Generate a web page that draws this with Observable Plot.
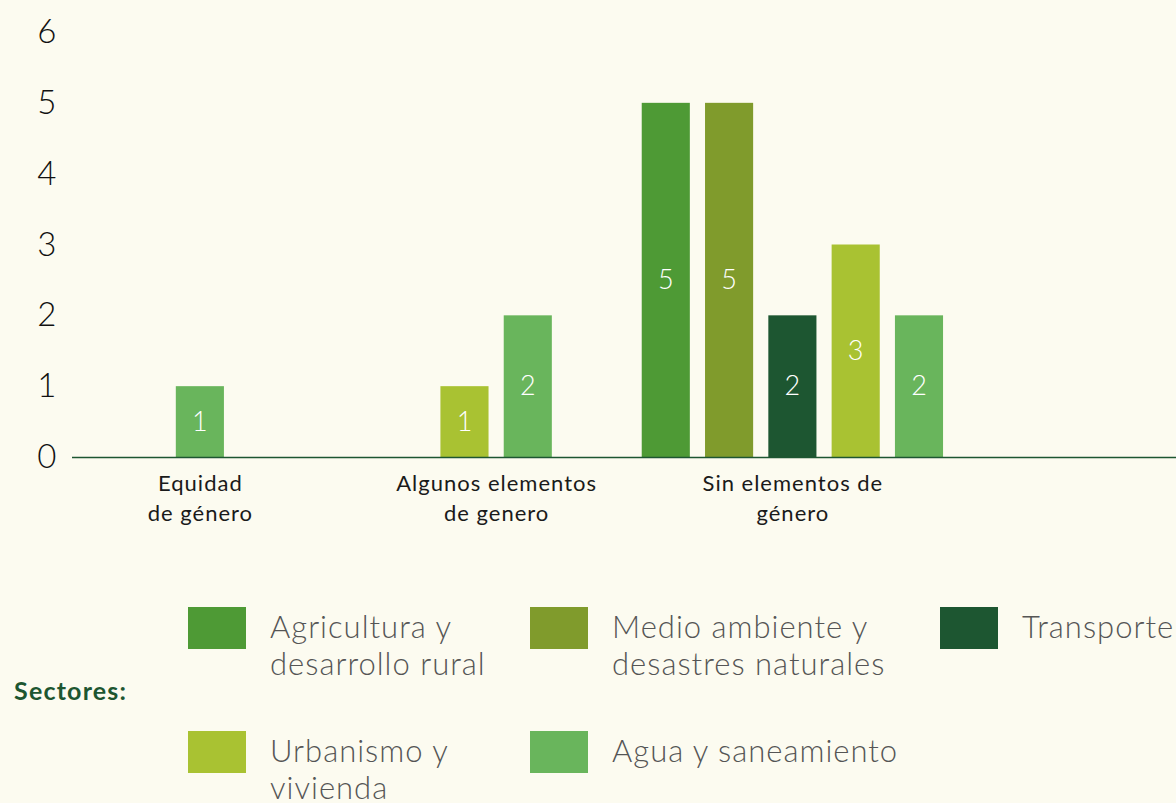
<!DOCTYPE html>
<html><head><meta charset="utf-8">
<script src="https://cdn.jsdelivr.net/npm/d3@7"></script>
<script src="https://cdn.jsdelivr.net/npm/@observablehq/plot@0.6"></script>
<style>
html,body{margin:0;padding:0;background:#fcfbf0;width:1176px;height:803px;overflow:hidden;font-family:Lato,"Noto Sans",sans-serif;}
#page{position:relative;width:1176px;height:803px;}
#chart{position:absolute;left:0;top:0;}
#legend-title{position:absolute;left:14px;top:675px;font-size:25px;line-height:30px;font-weight:700;letter-spacing:1.2px;color:#1d5631;}
#legend{position:absolute;left:188px;top:607px;display:grid;grid-template-columns:342px 410px auto;grid-auto-rows:124px;}
.item{display:flex;align-items:flex-start;}
.sw{width:58px;height:42px;flex:none;margin-right:24px;}
.lab{font-size:31px;line-height:37px;letter-spacing:1px;color:#555;font-weight:300;white-space:pre-line;margin-top:1px;}
</style></head>
<body>
<div id="page">
  <div id="chart"></div>
  <div id="legend-title">Sectores:</div>
  <div id="legend"></div>
</div>
<script>
// ---- data ----
const categories = ["Equidad de género", "Algunos elementos de genero", "Sin elementos de género"];
const categoryLabels = ["Equidad\nde género", "Algunos elementos\nde genero", "Sin elementos de\ngénero"];
const sectors = ["Agricultura y desarrollo rural", "Medio ambiente y desastres naturales", "Transporte", "Urbanismo y vivienda", "Agua y saneamiento"];
const legendLabels = ["Agricultura y\ndesarrollo rural", "Medio ambiente y\ndesastres naturales", "Transporte", "Urbanismo y\nvivienda", "Agua y saneamiento"];
const sectorColors = ["#4e9a35", "#809b2c", "#1d5631", "#a9c232", "#69b55c"];
// values per category, in sector order (null = no bar)
const equidadValues = [null, null, null, null, 1];
const algunosValues = [null, null, null, 1, 2];
const sinValues = [5, 5, 2, 3, 2];
const yTicks = [0, 1, 2, 3, 4, 5, 6];

// ---- layout (bar pitch units) ----
const catStep = 4.68;
const barHalf = 0.38;
const valuesByCat = [equidadValues, algunosValues, sinValues];
const rows = [];
const cats = [];
valuesByCat.forEach((vals, ci) => {
  const present = sectors.map((s, si) => ({sector: s, value: vals[si]})).filter(d => d.value != null);
  const n = present.length;
  const center = ci * catStep;
  cats.push({label: categoryLabels[ci], pos: center});
  present.forEach((d, j) => rows.push({category: categories[ci], sector: d.sector, value: d.value, pos: center + (j - (n - 1) / 2)}));
});

const chart = Plot.plot({
  width: 1176,
  height: 560,
  marginTop: 32,
  marginBottom: 103,
  marginLeft: 72,
  marginRight: 0,
  style: {background: "transparent", fontFamily: "Lato, 'Noto Sans', sans-serif", color: "#111", overflow: "visible", letterSpacing: "1px"},
  x: {type: "linear", domain: [-2.02, 15.42], axis: null},
  y: {domain: [0, 6], axis: null},
  color: {domain: sectors, range: sectorColors},
  marks: [
    Plot.rect(rows, {x1: d => d.pos - barHalf, x2: d => d.pos + barHalf, y1: 0, y2: "value", fill: "sector"}),
    Plot.text(rows, {x: "pos", y: d => d.value / 2, text: d => String(d.value), fill: "white", fontSize: 27, fontWeight: 300}),
    Plot.ruleY([0], {stroke: "#1d5631", strokeWidth: 1.5}),
    Plot.axisY({ticks: yTicks, tickSize: 0, tickPadding: 15, fontSize: 33, fontWeight: 300, label: null, tickFormat: d => String(d)}),
    Plot.text(cats, {x: "pos", y: 0, text: "label", lineAnchor: "top", dy: 12, fontSize: 22, lineHeight: 1.36, fill: "#1a1a1a"})
  ]
});
document.getElementById("chart").appendChild(chart);

const legend = d3.select("#legend");
sectors.forEach((s, i) => {
  const item = legend.append("div").attr("class", "item");
  item.append("div").attr("class", "sw").style("background", sectorColors[i]);
  item.append("div").attr("class", "lab").text(legendLabels[i]);
});
</script>
</body></html>
